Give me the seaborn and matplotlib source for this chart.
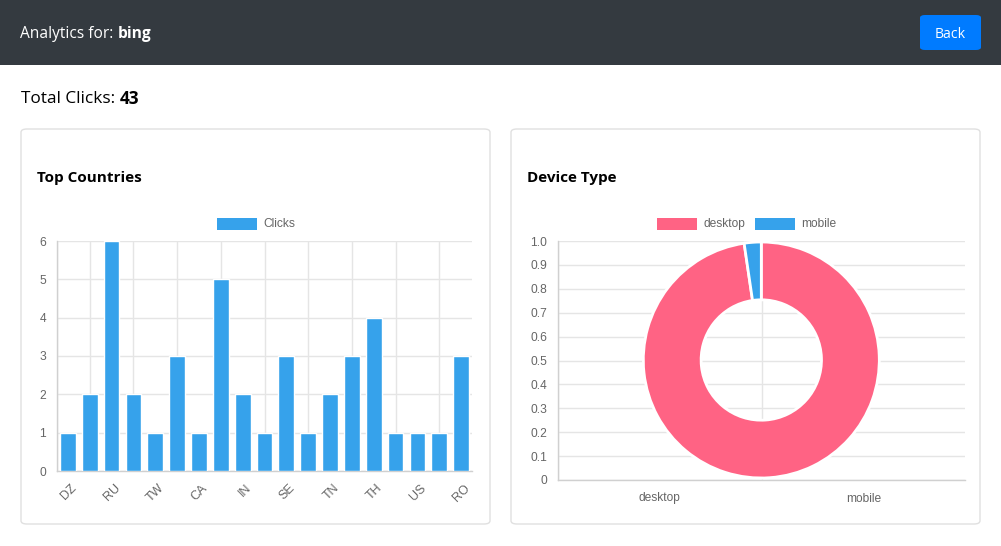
import matplotlib
matplotlib.use("Agg")
import matplotlib.pyplot as plt
import matplotlib.transforms as mtransforms
import seaborn as sns
import pandas as pd
from matplotlib.patches import Rectangle, FancyBboxPatch

# ---------------------------------------------------------------------------
# data
# ---------------------------------------------------------------------------
site_name = "bing"
total_clicks = 43

# only every other country code is printed under the axis in the reference
countries = ["DZ", "BR", "RU", "DE", "TW", "FR", "CA", "GB", "IN", "NL",
             "SE", "JP", "TN", "PL", "TH", "UA", "US", "VN", "RO"]
clicks = [1, 2, 6, 2, 1, 3, 1, 5, 2, 1, 3, 1, 2, 3, 4, 1, 1, 1, 3]

devices = ["desktop", "mobile"]
device_clicks = [42, 1]

# ---------------------------------------------------------------------------
# style
# ---------------------------------------------------------------------------
sns.set_theme(style="white")
plt.rcParams["font.family"] = ["Liberation Sans", "DejaVu Sans"]

W, H = 1001, 546
BLUE = "#36a2eb"
PINK = "#ff6384"
GRID = "#e5e5e5"
AXIS = "#d0d0d0"
TXT = "#666666"
PAGE_FONT = ["Open Sans", "DejaVu Sans"]


def px(n):
    # css pixels -> points
    return n * 0.72


def box(x0, y0, x1, y1):
    # pixel box (top-left origin) -> figure rect
    return [x0 / W, 1 - y1 / H, (x1 - x0) / W, (y1 - y0) / H]


fig = plt.figure(figsize=(W / 100, H / 100), dpi=100)
fig.patch.set_facecolor("white")
renderer = fig.canvas.get_renderer()


def label_value(x, y, label, value, size, color):
    # plain label followed by a bold value, like "<label> <b>value</b>"
    t = fig.text(x / W, 1 - y / H, label, color=color, fontsize=px(size),
                 family=PAGE_FONT, va="center", ha="left", zorder=5)
    x_end = t.get_window_extent(renderer).x1 + size * 0.26
    fig.text(x_end / W, 1 - y / H, value, color=color, fontsize=px(size),
             family=PAGE_FONT, weight="bold", va="center", ha="left", zorder=5)


# header bar
fig.patches.append(Rectangle((0, 1 - 65 / H), 1, 65 / H, transform=fig.transFigure,
                             facecolor="#343a40", edgecolor="none", zorder=-2))
label_value(20, 34, "Analytics for:", site_name, 15.5, "white")

# back button
fig.patches.append(FancyBboxPatch((920 / W, 1 - 50 / H), 61 / W, 35 / H,
                                  boxstyle="round,pad=0,rounding_size=0.005",
                                  transform=fig.transFigure, facecolor="#007bff",
                                  edgecolor="none", zorder=-1))
fig.text(950.5 / W, 1 - 34 / H, "Back", color="white", fontsize=px(14),
         family=PAGE_FONT, va="center", ha="center")

# total clicks
label_value(21, 99, "Total Clicks:", str(total_clicks), 17.2, "black")

# cards
for x0, x1, title in [(21, 490, "Top Countries"), (511, 980, "Device Type")]:
    fig.patches.append(FancyBboxPatch((x0 / W, 1 - 524 / H), (x1 - x0) / W, 395 / H,
                                      boxstyle="round,pad=0,rounding_size=0.006",
                                      transform=fig.transFigure, facecolor="white",
                                      edgecolor="#e0e0e0", linewidth=1, zorder=-1))
    fig.text((x0 + 16) / W, 1 - 178 / H, title, color="black", fontsize=px(15.2),
             family=PAGE_FONT, weight="bold", va="center", ha="left")


def style_axes(ax):
    ax.set_facecolor("none")
    for s in ["top", "right"]:
        ax.spines[s].set_visible(False)
    for s in ["left", "bottom"]:
        ax.spines[s].set_color(AXIS)
        ax.spines[s].set_linewidth(1)
    ax.tick_params(axis="y", which="major", length=px(8), width=1, color=GRID,
                   labelsize=px(12), labelcolor=TXT, pad=px(3))
    ax.tick_params(axis="x", which="major", length=0, labelsize=px(12),
                   labelcolor=TXT)
    ax.tick_params(axis="x", which="minor", length=px(8), width=1, color=GRID)
    ax.grid(True, axis="y", which="major", color=GRID, linewidth=1)
    ax.grid(True, axis="x", which="minor", color=GRID, linewidth=1)
    ax.grid(False, axis="x", which="major")
    ax.set_axisbelow(True)
    ax.set_xlabel("")
    ax.set_ylabel("")


# ---------------------------------------------------------------------------
# bar chart: top countries
# ---------------------------------------------------------------------------
df_c = pd.DataFrame({"country": countries, "clicks": clicks})
ax1 = fig.add_axes(box(57, 241, 472, 471))
sns.barplot(data=df_c, x="country", y="clicks", order=countries, color=BLUE,
            saturation=1, width=0.72, ax=ax1, zorder=3)
ax1.set_xlim(-0.5, len(countries) - 0.5)
ax1.set_ylim(0, 6)
ax1.set_yticks(range(0, 7))
ax1.set_xticks(range(0, len(countries), 2))
ax1.set_xticklabels(countries[::2], rotation=45, ha="right", va="center",
                    rotation_mode="anchor")
ax1.set_xticks([-0.5] + list(range(1, len(countries), 2)), minor=True)
style_axes(ax1)
ax1.tick_params(axis="x", which="major", pad=11)
shift = mtransforms.ScaledTranslation(7 / 100, 0, fig.dpi_scale_trans)
for lbl in ax1.get_xticklabels():
    lbl.set_transform(lbl.get_transform() + shift)
    lbl.set_fontsize(px(12.5))

# legend (chart.js style)
fig.patches.append(Rectangle((217 / W, 1 - 230 / H), 40 / W, 12 / H,
                             transform=fig.transFigure, facecolor=BLUE,
                             edgecolor="none", zorder=3))
fig.text(263 / W, 1 - 224 / H, "Clicks", color=TXT, fontsize=px(12),
         va="center", ha="left")

# ---------------------------------------------------------------------------
# doughnut: device type
# ---------------------------------------------------------------------------
ax2 = fig.add_axes(box(558, 241, 965, 480))
ax2.set_xlim(-0.5, 1.5)
ax2.set_ylim(0, 1)
ax2.set_xticks(range(len(devices)))
ax2.set_xticklabels(devices)
ax2.set_xticks([-0.5, 0.5], minor=True)
ax2.set_yticks([i / 10 for i in range(11)])
ax2.set_yticklabels(["0"] + [f"{i / 10:.1f}" for i in range(1, 11)])
style_axes(ax2)
ax2.tick_params(axis="x", which="major", pad=9)

r = 118
cx, cy = 761.3, 360
ax3 = fig.add_axes(box(cx - r, cy - r, cx + r, cy + r))
ax3.pie(device_clicks, colors=[PINK, BLUE], startangle=90, counterclock=False,
        radius=1, wedgeprops=dict(width=0.49, edgecolor="white", linewidth=2))
ax3.set_xlim(-1, 1)
ax3.set_ylim(-1, 1)
ax3.set_aspect("equal")
ax3.axis("off")

for x0, col, name in [(657, PINK, devices[0]), (755, BLUE, devices[1])]:
    fig.patches.append(Rectangle((x0 / W, 1 - 230 / H), 40 / W, 12 / H,
                                 transform=fig.transFigure, facecolor=col,
                                 edgecolor="none", zorder=3))
    fig.text((x0 + 46) / W, 1 - 224 / H, name, color=TXT, fontsize=px(12),
             va="center", ha="left")

fig.savefig("out.png", dpi=100, facecolor="white")
